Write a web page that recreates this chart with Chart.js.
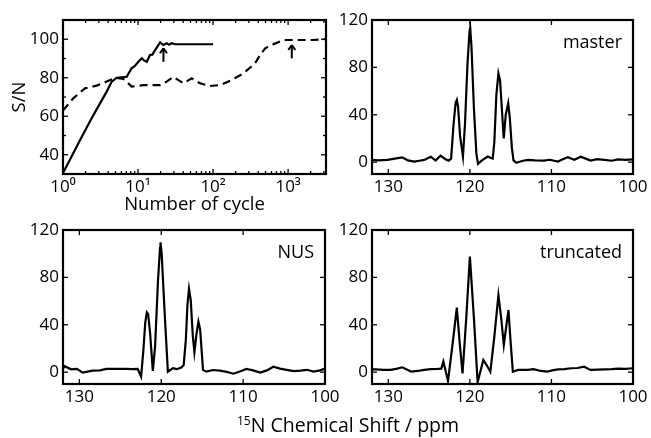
<!DOCTYPE html>
<html>
<head>
<meta charset="utf-8">
<script src="https://cdn.jsdelivr.net/npm/chart.js@4.4.0/dist/chart.umd.min.js"></script>
<style>
  html, body { margin: 0; padding: 0; background: #fff; }
  #wrap { position: relative; width: 651px; height: 438px; overflow: hidden; font-family: 'Open Sans', 'DejaVu Sans', sans-serif; }
  .pane { position: absolute; }
  #shiftTitle { position: absolute; left: 195px; width: 306px; top: 414px; text-align: center; font-size: 19.5px; line-height: 22px; color: #000; }
  #shiftTitle sup { font-size: 12px; vertical-align: 7px; line-height: 0; }
</style>
</head>
<body>
<div id="wrap">
  <div class="pane" style="left:0;top:0"><canvas id="cycleChart" width="330" height="225"></canvas></div>
  <div class="pane" style="left:330px;top:0"><canvas id="masterChart" width="321" height="215"></canvas></div>
  <div class="pane" style="left:0;top:215px"><canvas id="nusChart" width="345" height="223"></canvas></div>
  <div class="pane" style="left:330px;top:215px"><canvas id="truncChart" width="321" height="223"></canvas></div>
  <div id="shiftTitle"><sup>15</sup>N Chemical Shift / ppm</div>
</div>
<script>
// --- panel 1: S/N against number of cycles ---
const cycleTickValues = [1, 10, 100, 1000];
const cycleTickLabels = ['10⁰', '10¹', '10²', '10³'];
const snTickValues = [40, 60, 80, 100];
const snMinorTicks = [50, 70, 90];

const solidCycles = [1, 1.69, 2.54, 3.82, 4.46, 5.2, 7.06, 8.2, 9.0, 10.1, 11.2, 12, 13.1, 14.45, 15.5, 16.9, 19.7, 21.8, 24.1, 26, 28.1, 31.1, 54.7, 100];
const solidSN = [30.5, 47.7, 60.6, 72.8, 78, 80, 80.5, 84.9, 86, 88.3, 90.1, 89, 88.3, 91.8, 92, 94.4, 98.4, 97, 97.9, 97.2, 97.9, 97.4, 97.4, 97.4];

const dashedCycles = [1, 1.37, 1.96, 2.81, 3.82, 4.94, 6.37, 8.24, 11.8, 19.7, 24.1, 29.6, 34.5, 40.2, 52, 67.1, 91.2, 124, 177, 254, 363, 423, 494, 637, 867, 1306, 2070, 3200];
const dashedSN = [63, 69.3, 74.5, 75.9, 78, 80, 79.4, 75.4, 76.2, 76.2, 78, 80.5, 78.8, 77.1, 79.7, 77.1, 75.7, 76.2, 78.8, 82.3, 87.5, 91.8, 95.3, 97.4, 99.6, 99.6, 99.6, 100.1];

const arrowCycles = [21.8, 1120];
const arrowTail = [88.3, 90.1];
const arrowTip = [95.3, 97];

// --- spectra ---
const ppmTickValues = [130, 120, 110, 100];
const ppmTickLabels = ['130', '120', '110', '100'];
const intensityTickValues = [0, 40, 80, 120];

const masterPpm = [132, 131.2, 130.1, 129.2, 128.3, 127.6, 126.8, 126.2, 125.6, 124.8, 124.2, 123.6, 123.0, 122.6, 122.3, 122.0, 121.75, 121.6, 121.45, 121.2, 120.85, 120.6, 120.3, 120.05, 119.96, 119.8, 119.5, 119.2, 119.0, 118.6, 118.2, 117.8, 117.4, 117.2, 117.0, 116.75, 116.5, 116.3, 116.05, 115.85, 115.6, 115.3, 115.1, 114.85, 114.65, 114.3, 113.6, 112.9, 112.0, 110.9, 110.2, 109.2, 108.6, 108.0, 107.2, 106.4, 105.8, 105.2, 104.4, 103.5, 102.6, 101.85, 100.9, 100];
const masterInt = [2, 1.5, 1.9, 3, 4.1, 1.5, 0.5, 1.2, 1.9, 4.6, 1.3, 5.5, 2.5, 1.3, 3, 32, 50, 52.5, 47, 22, 4.7, 32, 82, 110, 113.5, 97, 45, 7, -1.5, 1, 3, 4.8, 3.5, 3, 17, 57, 75, 69, 42, 20, 40, 49.7, 37, 12, 1.5, -0.5, 1, 1.9, 1.5, 1.3, 2, 0.5, 2.5, 4.1, 2, 4.6, 3, 1.3, 2.5, 1.9, 1.2, 2.4, 2, 2.4];

const nusPpm = [132, 131.8, 131.0, 130.3, 129.6, 129.0, 128.4, 127.5, 126.7, 125.5, 124.3, 123.5, 122.87, 122.46, 122.2, 121.95, 121.76, 121.6, 121.35, 121.03, 120.75, 120.4, 120.15, 120.09, 119.95, 119.6, 119.19, 118.58, 118.1, 117.55, 117.26, 117.0, 116.8, 116.61, 116.4, 116.15, 115.95, 115.7, 115.46, 115.25, 114.9, 114.5, 113.7, 112.85, 112.0, 111.2, 110.4, 109.6, 108.8, 107.9, 107.1, 106.3, 105.5, 104.7, 103.8, 103.0, 102.2, 101.4, 100.6, 100];
const nusInt = [3, 5, 2.4, 2.8, -0.4, 0.5, 1.3, 1.5, 2.7, 2.7, 2.7, 2.5, 2.7, -3.8, 17, 42, 50.5, 49, 32, 1, 22, 77, 105, 109.6, 100, 52, 0.4, 3.3, 2.5, 3.9, 6, 27, 57, 70.2, 61, 31, 16.8, 32, 42.6, 36, 1.9, 0.4, 1.8, 1.3, 0.2, -1.3, 0.5, 2.7, 1.5, -0.4, 1.5, 4.6, 3, 1.9, 0.8, 1.3, 2, 0.4, 1.5, 3];

const truncPpm = [132, 131.5, 130.6, 129.7, 128.9, 128.3, 127.2, 126.4, 125.6, 124.8, 124.0, 123.5, 123.25, 122.68, 122.1, 121.6, 121.25, 120.9, 120.45, 120.0, 119.5, 119.05, 118.35, 117.95, 117.49, 117.0, 116.5, 116.15, 115.84, 115.55, 115.27, 115.0, 114.73, 114.1, 113.5, 112.9, 112.2, 111.3, 110.5, 109.9, 109.2, 108.4, 107.6, 106.8, 106.0, 105.2, 104.3, 103.5, 102.6, 101.8, 100.9, 100];
const truncInt = [2.4, 2.4, 2, 1.9, 3, 4.1, 0.5, 1, 1.9, 2.5, 2.7, 3, 8.9, -7.4, 25, 54.4, 25, -1, 45, 97.5, 45, -8.5, 10.3, 6, 0.4, 30, 65.1, 45, 23, 38, 52.5, 25, 0.4, 1.9, 2, 1.9, 2.5, 1, 0.5, 1.5, 2.4, 2.6, 3.3, 3.5, 4.6, 1.9, 2.2, 2.4, 2.6, 3, 2.8, 3.3];

const FONT = "'Open Sans', 'DejaVu Sans', sans-serif";

// minor log ticks 2..9 of every decade, up to the axis max
const cycleMinorTicks = [];
cycleTickValues.forEach(d => { for (let m = 2; m <= 9; m++) if (d * m <= 3200) cycleMinorTicks.push(d * m); });

// frame with inward ticks on all four sides, panel label, arrows
const framePlugin = {
  id: 'frame',
  afterDatasetsDraw(chart, args, o) {
    const { ctx, chartArea: a } = chart;
    const x = chart.scales.x, y = chart.scales.y;
    ctx.save();
    ctx.strokeStyle = '#000';
    ctx.fillStyle = '#000';
    const seg = (x1, y1, x2, y2) => { ctx.beginPath(); ctx.moveTo(x1, y1); ctx.lineTo(x2, y2); ctx.stroke(); };
    const xTicks = (vals, len) => vals.forEach(v => {
      const p = x.getPixelForValue(v);
      seg(p, a.bottom, p, a.bottom - len); seg(p, a.top, p, a.top + len);
    });
    const yTicks = (vals, len) => vals.forEach(v => {
      const p = y.getPixelForValue(v);
      seg(a.left, p, a.left + len, p); seg(a.right, p, a.right - len, p);
    });
    ctx.lineWidth = 1.3;
    xTicks(o.xMajor || [], 5);
    xTicks(o.xMinor || [], 3);
    yTicks(o.yMajor || [], 5);
    yTicks(o.yMinor || [], 3);
    ctx.lineWidth = 2.2;
    ctx.strokeRect(a.left, a.top, a.right - a.left, a.bottom - a.top);
    if (o.arrows) {
      ctx.lineWidth = 2;
      o.arrows.x.forEach((v, i) => {
        const px = x.getPixelForValue(v);
        const t0 = y.getPixelForValue(o.arrows.tail[i]);
        const t1 = y.getPixelForValue(o.arrows.tip[i]);
        seg(px, t0, px, t1);
        seg(px, t1, px - 3.5, t1 + 5);
        seg(px, t1, px + 3.5, t1 + 5);
      });
    }
    if (o.label) {
      ctx.font = '18px ' + FONT;
      ctx.textAlign = 'right';
      ctx.textBaseline = 'middle';
      ctx.fillText(o.label, a.right - 11, a.top + 23);
    }
    ctx.restore();
  }
};

function pts(xs, ys) { return xs.map((v, i) => ({ x: v, y: ys[i] })); }

function baseOptions(yWidth, xHeight, pad) {
  return {
    responsive: false,
    animation: false,
    events: [],
    layout: { padding: pad },
    plugins: { legend: { display: false }, tooltip: { enabled: false } },
    scales: {
      x: {
        grid: { display: false, drawTicks: false },
        border: { display: false },
        ticks: { color: '#000', font: { family: FONT, size: 17 }, padding: 3, maxRotation: 0, autoSkip: false },
        afterFit: s => { s.height = xHeight; s.paddingLeft = 0; s.paddingRight = 0; }
      },
      y: {
        grid: { display: false, drawTicks: false },
        border: { display: false },
        ticks: { color: '#000', font: { family: FONT, size: 17 }, padding: 4, autoSkip: false },
        afterFit: s => { s.width = yWidth; s.paddingTop = 0; s.paddingBottom = 0; }
      }
    }
  };
}

// panel 1
const cycleOpts = baseOptions(63, 51, { left: 0, top: 20, right: 4, bottom: 0 });
Object.assign(cycleOpts.scales.x, {
  type: 'logarithmic', min: 1, max: 3200,
  afterBuildTicks: s => { s.ticks = cycleTickValues.map(v => ({ value: v })); },
  title: { display: true, text: 'Number of cycle', color: '#000', font: { family: FONT, size: 18.5 }, padding: { top: 0, bottom: 9 } }
});
cycleOpts.scales.x.ticks.callback = (v, i) => cycleTickLabels[i];
Object.assign(cycleOpts.scales.y, {
  min: 30, max: 110,
  afterBuildTicks: s => { s.ticks = snTickValues.map(v => ({ value: v })); },
  title: { display: true, text: 'S/N', color: '#000', font: { family: FONT, size: 18.5 }, padding: { top: 9, bottom: 0 } }
});
cycleOpts.plugins.frame = {
  xMajor: cycleTickValues, xMinor: cycleMinorTicks, yMajor: snTickValues, yMinor: snMinorTicks,
  arrows: { x: arrowCycles, tail: arrowTail, tip: arrowTip }
};

new Chart(document.getElementById('cycleChart'), {
  type: 'line',
  data: {
    datasets: [
      { data: pts(solidCycles, solidSN), borderColor: '#000', borderWidth: 2.2, pointRadius: 0, tension: 0 },
      { data: pts(dashedCycles, dashedSN), borderColor: '#000', borderWidth: 2.2, borderDash: [8, 5], pointRadius: 0, tension: 0 }
    ]
  },
  options: cycleOpts,
  plugins: [framePlugin]
});

// spectra
function makeSpectrum(id, ppm, intensity, label, yWidth, xHeight, pad) {
  const opts = baseOptions(yWidth, xHeight, pad);
  Object.assign(opts.scales.x, {
    type: 'linear', reverse: true, min: 100, max: 132,
    afterBuildTicks: s => { s.ticks = ppmTickValues.map(v => ({ value: v })); }
  });
  opts.scales.x.ticks.callback = (v, i) => ppmTickLabels[i];
  Object.assign(opts.scales.y, {
    min: -10, max: 120,
    afterBuildTicks: s => { s.ticks = intensityTickValues.map(v => ({ value: v })); }
  });
  opts.plugins.frame = { xMajor: ppmTickValues, yMajor: intensityTickValues, label: label };
  new Chart(document.getElementById(id), {
    type: 'line',
    data: { datasets: [{ data: pts(ppm, intensity), borderColor: '#000', borderWidth: 2.2, pointRadius: 0, tension: 0 }] },
    options: opts,
    plugins: [framePlugin]
  });
}

makeSpectrum('masterChart', masterPpm, masterInt, 'master', 42, 41, { left: 0, top: 20, right: 18, bottom: 0 });
makeSpectrum('nusChart', nusPpm, nusInt, 'NUS', 63, 54, { left: 0, top: 15, right: 20, bottom: 0 });
makeSpectrum('truncChart', truncPpm, truncInt, 'truncated', 42, 54, { left: 0, top: 15, right: 18, bottom: 0 });
</script>
</body>
</html>
